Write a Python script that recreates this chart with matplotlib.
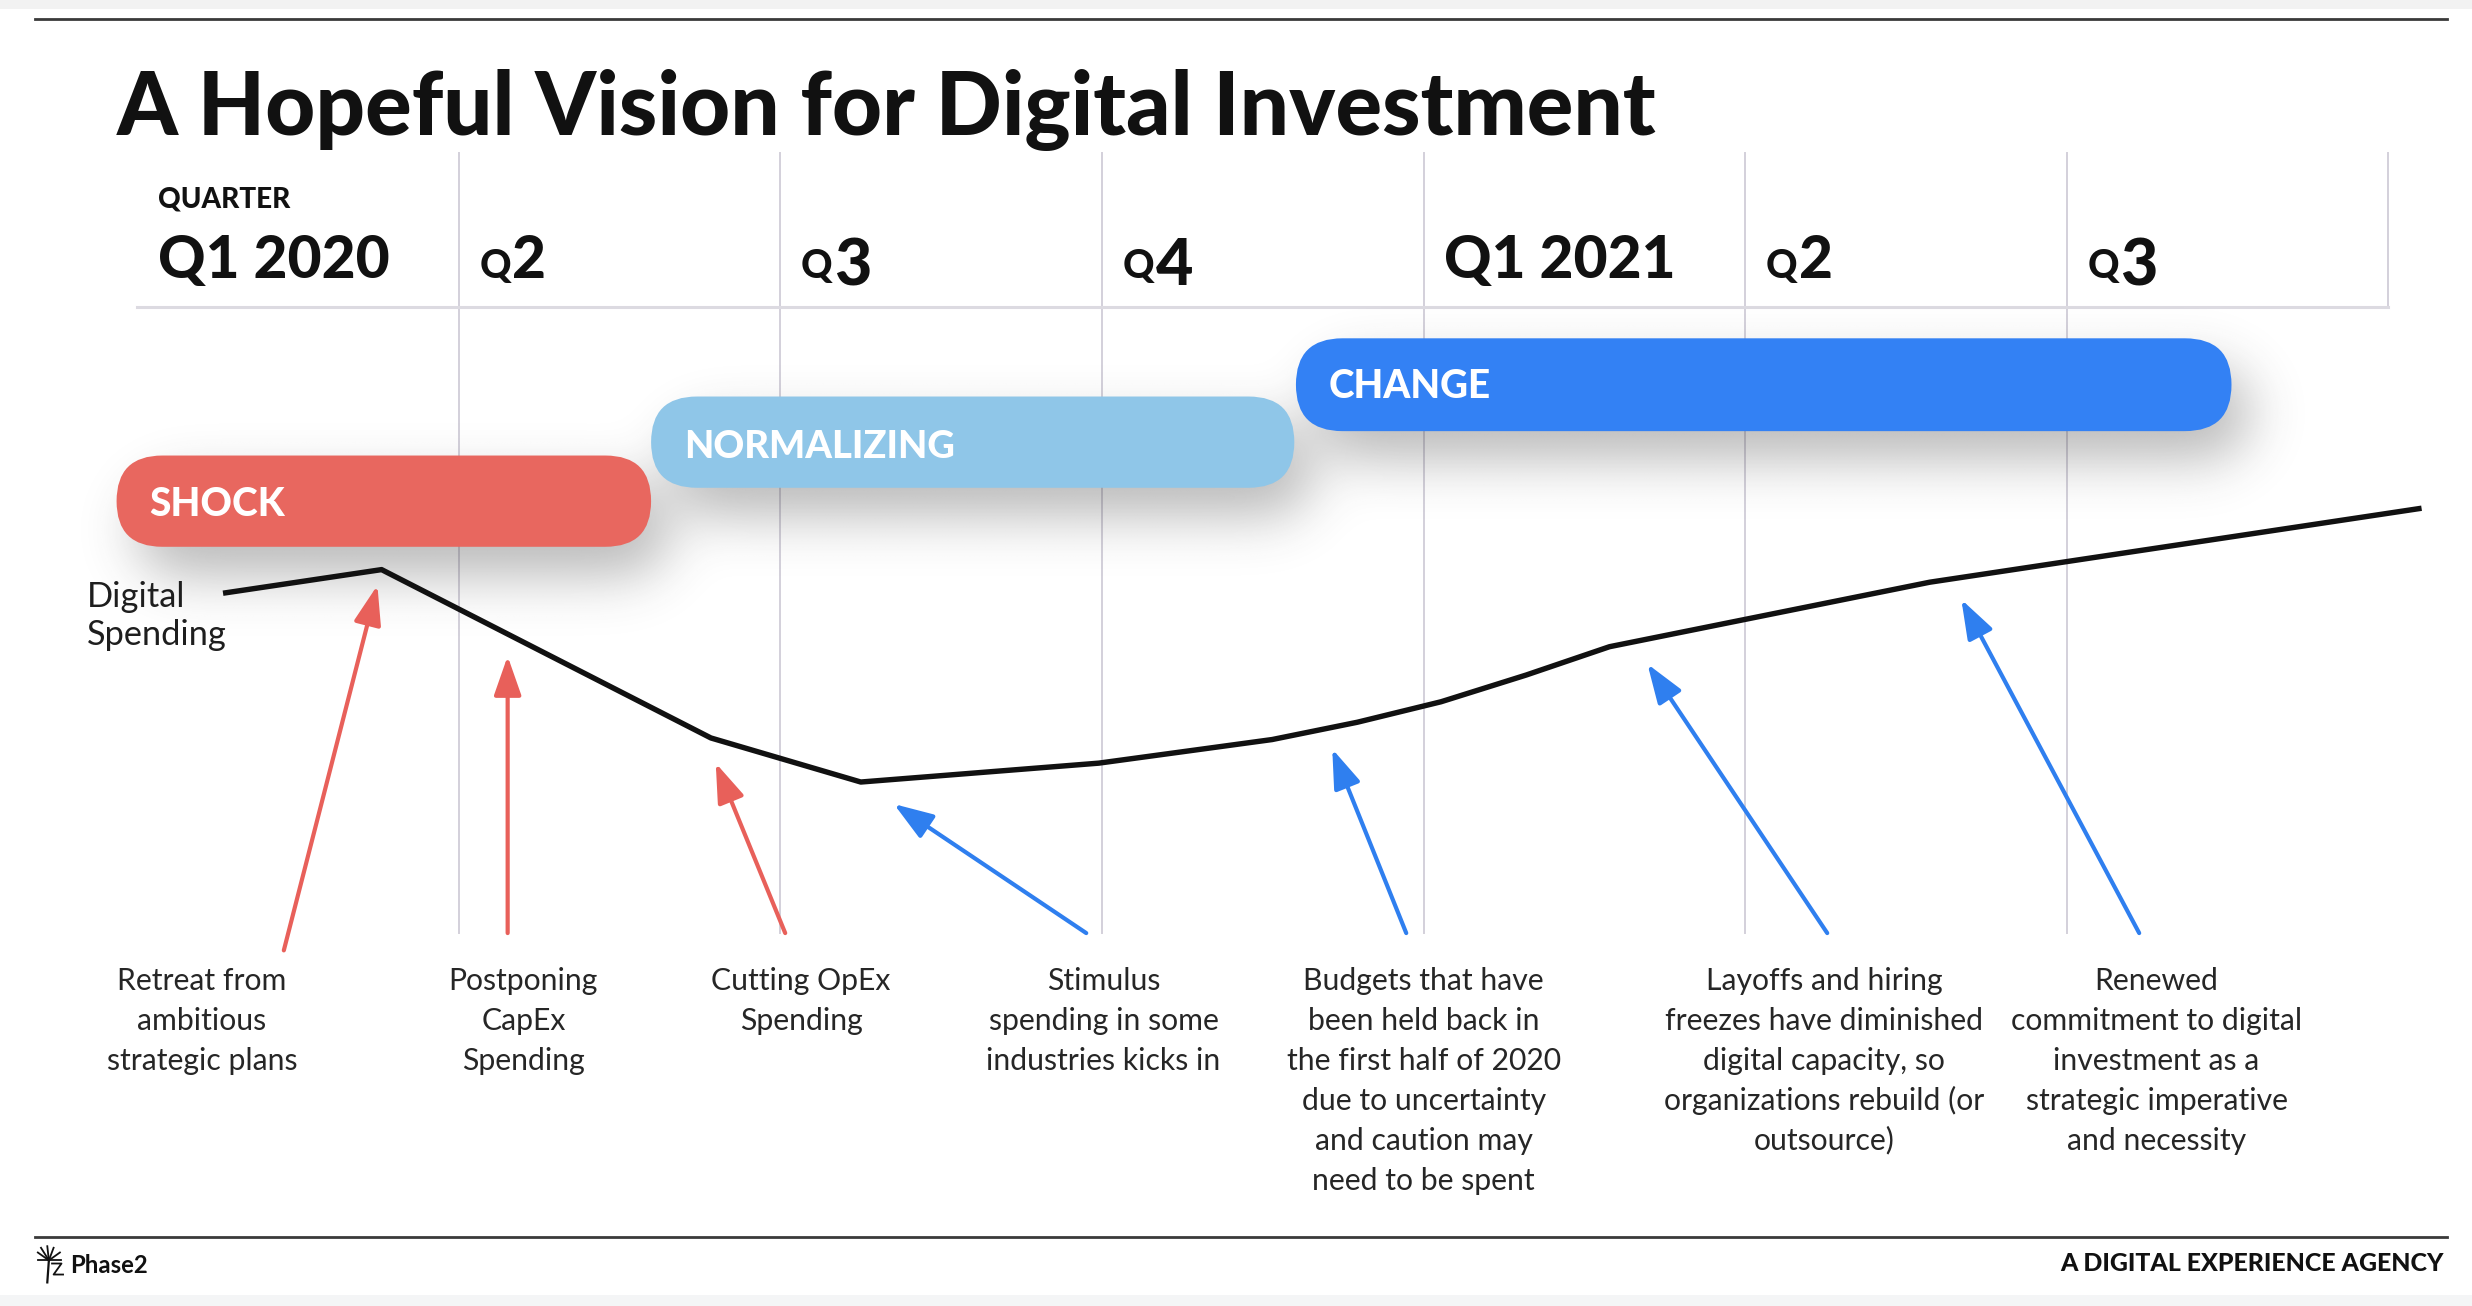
import numpy as np
import matplotlib
matplotlib.use("Agg")
import matplotlib.pyplot as plt
from matplotlib.patches import FancyBboxPatch, FancyArrowPatch, Rectangle
from matplotlib.transforms import Affine2D
from matplotlib.lines import Line2D

# ---------------- data ----------------
TITLE = "A Hopeful Vision for Digital Investment"
quarter_labels = ["Q1 2020", "Q2", "Q3", "Q4", "Q1 2021", "Q2", "Q3"]

# Digital spending curve: x in quarters since start of Q1 2020, y = relative index
spend_q = [0.267, 0.760, 1.784, 2.250, 2.990, 3.529, 3.794, 4.054, 4.319, 4.578, 5.574, 7.103]
spend_v = [123, 138, 31, 3, 15, 30, 41, 54, 71, 89, 130, 177]

# Phases (start / end in quarters)
phase_names = ["SHOCK", "NORMALIZING", "CHANGE"]
phase_start = [-0.064, 1.598, 3.603]
phase_end = [1.598, 3.598, 6.512]
phase_colors = ["#E8675F", "#8FC6E8", "#3381F4"]

# Annotations
ann_texts = [
    ["Retreat from", "ambitious", "strategic plans"],
    ["Postponing", "CapEx", "Spending"],
    ["Cutting OpEx", "Spending"],
    ["Stimulus", "spending in some", "industries kicks in"],
    ["Budgets that have", "been held back in", "the first half of 2020",
     "due to uncertainty", "and caution may", "need to be spent"],
    ["Layoffs and hiring", "freezes have diminished", "digital capacity, so",
     "organizations rebuild (or", "outsource)"],
    ["Renewed", "commitment to digital", "investment as a",
     "strategic imperative", "and necessity"],
]
ann_text_q = [0.201, 1.201, 2.064, 3.005, 4.000, 5.245, 6.279]
ann_tail_q = [0.456, 1.152, 2.015, 2.951, 3.946, 5.255, 6.225]
ann_tail_v = [-104, -93, -93, -93, -93, -93, -93]
ann_head_q = [0.747, 1.152, 1.799, 2.353, 3.716, 4.696, 5.672]
ann_head_v = [128, 83, 15, -11, 24, 78, 119]
ann_colors = ["#E8605A", "#E8605A", "#E8605A", "#2F7FEF", "#2F7FEF", "#2F7FEF", "#2F7FEF"]

# ---------------- figure / layout ----------------
plt.rcParams['font.family'] = ['Lato', 'DejaVu Sans']
W_PX, H_PX, DPI = 2472, 1306, 100
REF_W, REF_H = 1568, 830
SX = W_PX / REF_W
fig = plt.figure(figsize=(W_PX / DPI, H_PX / DPI), dpi=DPI)
fig.patch.set_facecolor("white")
L = Affine2D().scale(1 / REF_W, -1 / REF_H).translate(0, 1) + fig.transFigure
renderer = fig.canvas.get_renderer()

Q0, QW, V0 = 87.0, 204.0, 500.0
TDY = 2.0  # small text baseline correction (reference px)


def vy(py):
    return V0 - py


def qoff(px):
    return px / QW


ax = fig.add_axes([0, 0, 1, 1])
XL = (-Q0 / QW, (REF_W - Q0) / QW)
YL = (V0 - REF_H, V0)
ax.axis('off')


def fit_width(t, target_ref_px):
    bb = t.get_window_extent(renderer=renderer)
    t.set_fontsize(t.get_fontsize() * target_ref_px * SX / bb.width)
    return t


# background bands
fig.add_artist(Rectangle((0, 0), REF_W, 6, transform=L, color="#F2F2F2", lw=0, zorder=0))
fig.add_artist(Rectangle((0, 823), REF_W, 7, transform=L, color="#F4F5F6", lw=0, zorder=0))
# rules
for yy_ in (12, 786):
    fig.add_artist(Line2D([22, 1552], [yy_, yy_], transform=L, color="#3A3A3A", lw=2.0))

# grid
grid_c = "#D3D0DA"
n_q = len(quarter_labels)
for i in range(1, n_q):
    ax.plot([i, i], [vy(593), vy(97)], color=grid_c, lw=1.4, zorder=1)
ax.plot([n_q, n_q], [vy(195), vy(97)], color=grid_c, lw=1.4, zorder=1)
ax.plot([0, n_q], [vy(195), vy(195)], color="#DCDAE1", lw=2.2, zorder=1)

# pills rows (reference px)
pill_rows = [(289.5, 347.5), (252.0, 310.0), (215.0, 274.0)]

# shadow image
Hh, Ww = REF_H, REF_W
yy, xx = np.mgrid[0:Hh, 0:Ww] + 0.5
mask = np.zeros((Hh, Ww))
dx, dy = 12.0, 18.0
for s, e, (r0, r1) in zip(phase_start, phase_end, pill_rows):
    x0p, x1p = Q0 + QW * s, Q0 + QW * e
    r = (r1 - r0) / 2
    yc = (r0 + r1) / 2 + dy
    cx = np.clip(xx - dx, x0p + r, x1p - r)
    d = np.hypot(xx - dx - cx, yy - yc)
    mask = np.maximum(mask, (d <= r).astype(float))
sig = 17.0
kx = np.arange(-int(3 * sig), int(3 * sig) + 1)
k = np.exp(-kx ** 2 / (2 * sig ** 2))
k /= k.sum()
blur = np.apply_along_axis(lambda m: np.convolve(m, k, mode='same'), 1, mask)
blur = np.apply_along_axis(lambda m: np.convolve(m, k, mode='same'), 0, blur)
img = np.zeros((Hh, Ww, 4))
img[..., :3] = 0.2
img[..., 3] = 0.34 * blur
ax.imshow(img, extent=(XL[0], XL[1], YL[0], YL[1]), origin='upper', zorder=2,
          aspect='auto', interpolation='bilinear')

# pills
label_base = [327.0, 290.0, 252.0]
label_w = [86, 172, 103]
for name, s, e, c, (r0, r1), b, lw_ in zip(phase_names, phase_start, phase_end,
                                           phase_colors, pill_rows, label_base, label_w):
    h = r1 - r0
    p = FancyBboxPatch((s, vy(r1)), e - s, h,
                       boxstyle=f"round,pad=0,rounding_size={h / 2 / QW * 0.999}",
                       mutation_aspect=QW, fc=c, ec='none', zorder=3)
    ax.add_patch(p)
    t = ax.text(s + qoff(21), vy(b + 1), name, color="white", fontsize=24,
                fontweight='black', ha='left', va='baseline', zorder=4)
    fit_width(t, lw_)

# spending line
ax.plot(spend_q, spend_v, color="#111111", lw=3.9, solid_joinstyle='round',
        solid_capstyle='butt', zorder=5)

# arrows
for tq, tv, hq, hv, c in zip(ann_tail_q, ann_tail_v, ann_head_q, ann_head_v, ann_colors):
    a = FancyArrowPatch((tq, tv), (hq, hv), arrowstyle="-|>,head_length=1.2,head_width=0.42",
                        mutation_scale=20, lw=3.0, color=c, shrinkA=0, shrinkB=0, zorder=6)
    ax.add_patch(a)

# annotation texts
probe = ax.text(0, 0, "freezes have diminished", fontsize=20)
fit_width(probe, 202.5)
ann_fs = probe.get_fontsize()
probe.remove()
for lines, xq in zip(ann_texts, ann_text_q):
    for i, ln in enumerate(lines):
        ax.text(xq, vy(627 + TDY + i * 25.4), ln, fontsize=ann_fs, color="#262626",
                ha='center', va='baseline', zorder=7)

# Digital Spending label
t1 = ax.text(0 - qoff(32), vy(383 + 3), "Digital", fontsize=20, color="#1E1E1E",
             ha='left', va='baseline', zorder=7)
t2 = ax.text(0 - qoff(32), vy(407 + 3), "Spending", fontsize=20, color="#1E1E1E",
             ha='left', va='baseline', zorder=7)
fit_width(t2, 89)
t1.set_fontsize(t2.get_fontsize())

# header
tq = ax.text(qoff(13), vy(131 + 1), "QUARTER", fontsize=14, fontweight='black',
             color="#111111", ha='left', va='baseline', zorder=7)
fit_width(tq, 84)
QB = 174.4 + TDY
big = ax.text(qoff(13), vy(QB), quarter_labels[0], fontsize=36, fontweight='black',
              color="#111111", ha='left', va='baseline', zorder=7)
fit_width(big, 147)
big_fs = big.get_fontsize()
for i, lab in enumerate(quarter_labels):
    if i == 0:
        continue
    x = i + qoff(13)
    if " " in lab:
        ax.text(x, vy(QB), lab, fontsize=big_fs, fontweight='black',
                color="#111111", ha='left', va='baseline', zorder=7)
    else:
        tqq = ax.text(x, vy(QB), lab[0], fontsize=big_fs * 0.66, fontweight='black',
                      color="#111111", ha='left', va='baseline', zorder=7)
        bw = tqq.get_window_extent(renderer=renderer).width / SX
        oldstyle = lab[1] in "34579"
        ax.text(x + qoff(bw + 1), vy(QB + (5 if oldstyle else 0)), lab[1],
                fontsize=big_fs * (1.1 if oldstyle else 1.0), fontweight='black',
                color="#111111", ha='left', va='baseline', zorder=7)

# title
tt = fig.text(74, 85.6, TITLE, transform=L, fontsize=60, fontweight='black',
              color="#111111", ha='left', va='baseline')
fit_width(tt, 977)

# footer
ft = fig.text(1550, 808, "A DIGITAL EXPERIENCE AGENCY", transform=L, fontsize=12,
              fontweight='black', color="#111111", ha='right', va='baseline')
fit_width(ft, 242)
ph = fig.text(44.5, 809, "Phase2", transform=L, fontsize=12, fontweight='bold',
              color="#111111", ha='left', va='baseline')
fit_width(ph, 49)
# small logo mark
cx0, cy0 = 31, 801
for ex, ey in [(24, 796), (26, 793), (30, 792), (34, 793), (38, 796), (24, 801), (39, 801)]:
    fig.add_artist(Line2D([cx0, ex], [cy0, ey], transform=L, color="#111111", lw=1.3))
fig.add_artist(Line2D([cx0, cx0 - 1], [cy0, 815], transform=L, color="#111111", lw=1.6))
fig.add_artist(Line2D([cx0 + 2, cx0 + 8, cx0 + 3, cx0 + 9], [803, 803, 810, 810],
                      transform=L, color="#111111", lw=1.3))

ax.set_xlim(*XL)
ax.set_ylim(*YL)
fig.savefig("out.png", dpi=DPI, facecolor="white")
